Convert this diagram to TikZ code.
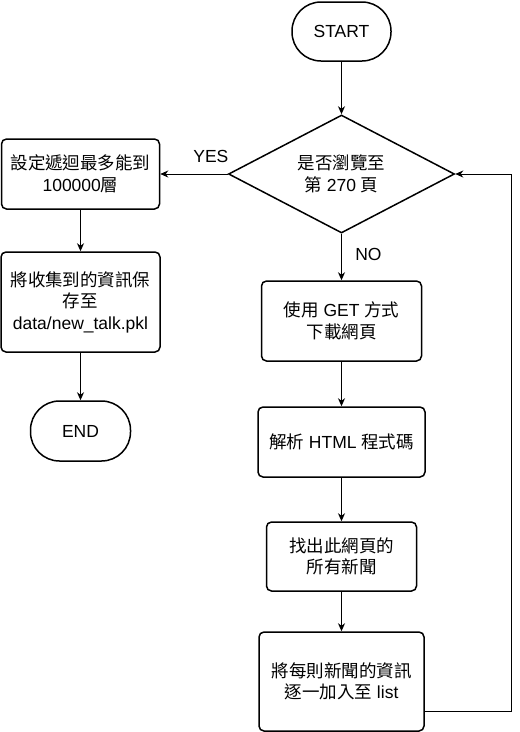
\documentclass[tikz,border=0pt]{standalone}
\usepackage{fontspec}
\setmainfont{Liberation Sans}
\newfontfamily\cjk{Noto Sans CJK TC}
\newcommand{\zh}[1]{{\cjk #1}}
\usetikzlibrary{arrows.meta,positioning,shapes.geometric}

\begin{document}
\begin{tikzpicture}[
  font=\fontsize{17.5pt}{21.5pt}\selectfont,
  box/.style={draw, rounded corners=5pt, align=center, line width=1.5pt,
    inner sep=2pt},
  terminal/.style={draw, rounded corners=29pt, align=center, line width=1.5pt,
    minimum width=99pt, minimum height=59pt},
  decision/.style={draw, diamond, aspect=1.9, align=center, inner sep=0pt,
    line width=1.5pt, minimum width=226pt, minimum height=118pt},
  arr/.style={-{Stealth[length=8pt, width=7pt, inset=2.5pt]}, line width=1pt}
]
\useasboundingbox (0,0) rectangle (520pt,-732pt);
\node[terminal] (start) at (341.5pt,-31.5pt) {START};
\node[decision, below=52.5pt of start] (check) {\zh{是否瀏覽至}\\\zh{第} 270 \zh{頁}};
\node[box, left=67.5pt of check, minimum width=158pt, minimum height=70pt] (limit)
  {\zh{設定遞迴最多能到}\\100000\zh{層}};
\node[box, below=41.5pt of limit, minimum width=159pt, minimum height=100pt] (save)
  {\zh{將收集到的資訊保}\\\zh{存至}\\data/new\_talk.pkl};
\node[terminal, below=47.5pt of save, minimum width=100pt, minimum height=60pt] (stop) {END};
\node[box, below=46.5pt of check, minimum width=160pt, minimum height=80pt] (download)
  {\zh{使用} GET \zh{方式}\\\zh{下載網頁}};
\node[box, below=44.5pt of download, minimum width=167pt, minimum height=70pt] (parse)
  {\zh{解析} HTML \zh{程式碼}};
\node[box, below=43.5pt of parse, minimum width=150pt, minimum height=69pt] (extract)
  {\zh{找出此網頁的}\\\zh{所有新聞}};
\node[box, below=39.5pt of extract, minimum width=165pt, minimum height=99pt] (append)
  {\zh{將每則新聞的資訊}\\\zh{逐一加入至} list};

\draw[arr] (start) -- (check);
\draw[arr] (check) -- node[above=8pt, pos=0.25]{YES} (limit);
\draw[arr] (limit) -- (save);
\draw[arr] (save) -- (stop);
\draw[arr] (check) -- node[right=10pt, pos=0.45]{NO} (download);
\draw[arr] (download) -- (parse);
\draw[arr] (parse) -- (extract);
\draw[arr] (extract) -- (append);
\draw[arr] ([yshift=-30pt]append.east) -- ++(87pt,0) |- (check.east);
\end{tikzpicture}
\end{document}
